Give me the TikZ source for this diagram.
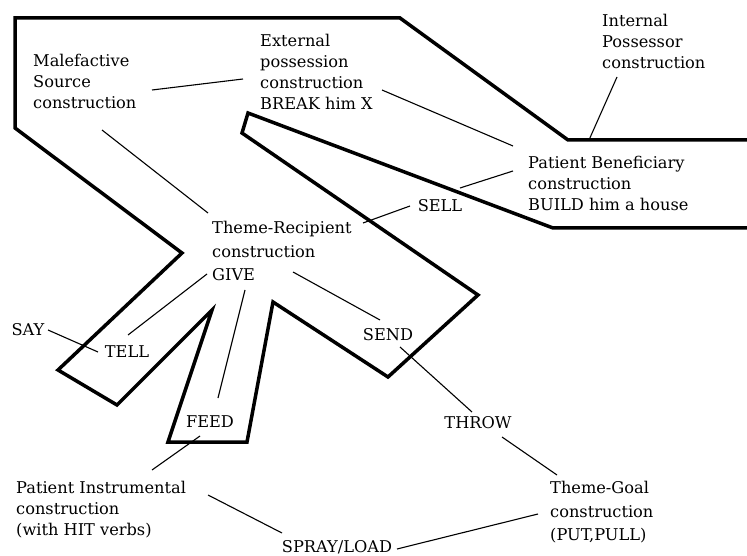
\documentclass[tikz,border=0pt]{standalone}
\usepackage{fontspec}
\setmainfont{DejaVu Serif}
\begin{document}
\begin{tikzpicture}[x=1pt,y=-1pt,
  outline/.style={line width=3.5pt, line join=miter},
  conn/.style={line width=1.1pt},
  lab/.style={inner sep=0pt, anchor=north west, align=left, font=\fontsize{16.2}{21}\selectfont},
  widelab/.style={lab, font=\fontsize{16.2}{23.5}\selectfont},
  word/.style={inner sep=0pt, anchor=base, font=\fontsize{16.2}{21}\selectfont}]
\useasboundingbox (0,0) rectangle (747,556);
\fill[white] (0,0) rectangle (747,556);
% outline of the construction network
\draw[outline] (752,140) -- (568,140) -- (400,18) -- (15,18) -- (15,128) -- (182,253)
  -- (58,370) -- (117,405) -- (212,310) -- (168,442) -- (247,442) -- (273,302)
  -- (388,377) -- (478,295) -- (242,133) -- (248,113) -- (553,228) -- (752,228);
% texts
\node[lab] (male) at (33,54) {Malefactive\\Source\\construction};
\node[lab] (ext) at (260,34) {External\\possession\\construction\\BREAK him X};
\node[lab] (int) at (602,14) {Internal\\Possessor\\construction};
\node[lab] (pben) at (528,156) {Patient Beneficiary\\construction\\BUILD him a house};
\node[widelab] (trec) at (212,221) {Theme-Recipient\\construction\\GIVE};
\node[widelab] (tgoal) at (550,481) {Theme-Goal\\construction\\(PUT,PULL)};
\node[lab] (pinst) at (16,481) {Patient Instrumental\\construction\\(with HIT verbs)};
\node[word] (sell) at (440,212) {SELL};
\node[word] (say) at (28,335) {SAY};
\node[word] (tell) at (127,357) {TELL};
\node[word] (send) at (388,340) {SEND};
\node[word] (feed) at (210,427) {FEED};
\node[word] (throw) at (478,428) {THROW};
\node[word] (spray) at (337,552) {SPRAY/LOAD};
% connector end points
\coordinate (a1) at (152,90);  \coordinate (a2) at (243,79);
\coordinate (b1) at (102,130); \coordinate (b2) at (208,213);
\coordinate (c1) at (382,90);  \coordinate (c2) at (513,146);
\coordinate (d1) at (617,77);  \coordinate (d2) at (589,140);
\coordinate (e1) at (513,171); \coordinate (e2) at (460,188);
\coordinate (f1) at (410,206); \coordinate (f2) at (363,223);
\coordinate (g1) at (207,274); \coordinate (g2) at (128,335);
\coordinate (h1) at (48,330);  \coordinate (h2) at (98,352);
\coordinate (i1) at (293,272); \coordinate (i2) at (380,320);
\coordinate (j1) at (245,290); \coordinate (j2) at (218,398);
\coordinate (k1) at (400,347); \coordinate (k2) at (472,412);
\coordinate (l1) at (502,437); \coordinate (l2) at (557,475);
\coordinate (m1) at (538,514); \coordinate (m2) at (397,549);
\coordinate (n1) at (208,495); \coordinate (n2) at (282,533);
\coordinate (o1) at (200,436); \coordinate (o2) at (152,470);
% connectors
\draw[conn] (a1) -- (a2);
\draw[conn] (b1) -- (b2);
\draw[conn] (c1) -- (c2);
\draw[conn] (d1) -- (d2);
\draw[conn] (e1) -- (e2);
\draw[conn] (f1) -- (f2);
\draw[conn] (g1) -- (g2);
\draw[conn] (h1) -- (h2);
\draw[conn] (i1) -- (i2);
\draw[conn] (j1) -- (j2);
\draw[conn] (k1) -- (k2);
\draw[conn] (l1) -- (l2);
\draw[conn] (m1) -- (m2);
\draw[conn] (n1) -- (n2);
\draw[conn] (o1) -- (o2);
\end{tikzpicture}
\end{document}
